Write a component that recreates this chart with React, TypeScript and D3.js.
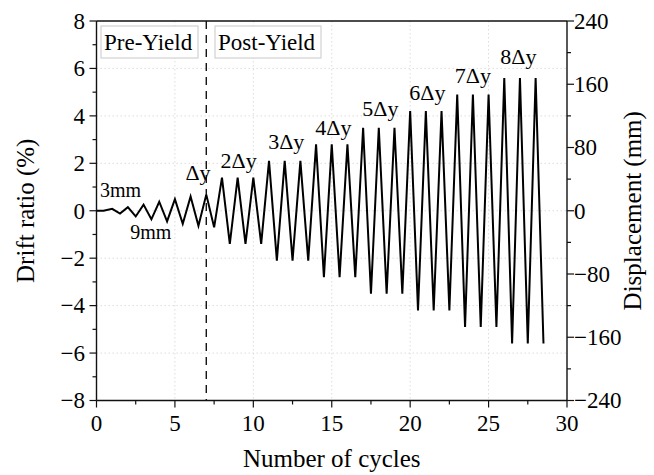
import React from 'react';
import * as d3 from 'd3';

// loading protocol: cycle number vs drift ratio (%)
const cycles = [
  0, 0.45, 1, 1.5, 2, 2.5, 3, 3.5, 4, 4.5, 5, 5.5, 6, 6.5, 7, 7.5,
  8, 8.5, 9, 9.5, 10, 10.5,
  11, 11.5, 12, 12.5, 13, 13.5,
  14, 14.5, 15, 15.5, 16, 16.5,
  17, 17.5, 18, 18.5, 19, 19.5,
  20, 20.5, 21, 21.5, 22, 22.5,
  23, 23.5, 24, 24.5, 25, 25.5,
  26, 26.5, 27, 27.5, 28, 28.5,
];
const drift = [
  0, 0, 0.08, -0.12, 0.15, -0.24, 0.26, -0.36, 0.38, -0.45, 0.49, -0.55, 0.6, -0.63, 0.68, -0.7,
  1.4, -1.4, 1.4, -1.4, 1.4, -1.4,
  2.1, -2.1, 2.1, -2.1, 2.1, -2.1,
  2.8, -2.8, 2.8, -2.8, 2.8, -2.8,
  3.5, -3.5, 3.5, -3.5, 3.5, -3.5,
  4.2, -4.2, 4.2, -4.2, 4.2, -4.2,
  4.9, -4.9, 4.9, -4.9, 4.9, -4.9,
  5.6, -5.6, 5.6, -5.6, 5.6, -5.6,
];

const stageLabels = ['3mm', '9mm', 'Δy', '2Δy', '3Δy', '4Δy', '5Δy', '6Δy', '7Δy', '8Δy'];
const stageLabelCycle = [1.53, 3.46, 6.47, 9.06, 12.1, 15.1, 18.1, 21.1, 24.0, 26.9];
const stageLabelDrift = [0.59, -1.19, 1.28, 1.8, 2.6, 3.2, 4.0, 4.67, 5.4, 6.19];

const yieldCycle = 7;
const phaseLabels = ['Pre-Yield', 'Post-Yield'];

const xTicks = [0, 5, 10, 15, 20, 25, 30];
const yTicks = [-8, -6, -4, -2, 0, 2, 4, 6, 8];
const dispTicks = [-240, -160, -80, 0, 80, 160, 240];

const serif = { fontFamily: "'Liberation Serif', 'DejaVu Serif', serif" };

const App = () => {
  const width = 654, height = 475;
  const left = 96.5, right = 567, top = 21, bottom = 400.5;

  const x = d3.scaleLinear().domain([0, 30]).range([left, right]);
  const y = d3.scaleLinear().domain([-8, 8]).range([bottom, top]);
  const yDisp = d3.scaleLinear().domain([-240, 240]).range([bottom, top]);
  const fmt = d3.format('d');

  const line = d3.line<number>()
    .x((d, i) => x(cycles[i]))
    .y(d => y(d));

  const xMinor = d3.range(2.5, 30, 5);
  const yMinor = d3.range(-7, 8, 2);
  const dispMinor = d3.range(-200, 240, 80);

  return (
    <svg width={width} height={height} style={{ position: 'absolute', left: 0, top: 0, background: '#fff', ...serif }}>
      {/* grid */}
      <g stroke="#dcdcdc" strokeWidth={1} strokeDasharray="1.5 2.5">
        {xTicks.slice(1, -1).map(t => <line key={'gx' + t} x1={x(t)} x2={x(t)} y1={top} y2={bottom} />)}
        {yTicks.slice(1, -1).map(t => <line key={'gy' + t} x1={left} x2={right} y1={y(t)} y2={y(t)} />)}
      </g>

      {/* phase boxes */}
      <rect x={101} y={26} width={97} height={32} fill="#fff" stroke="#c8c8c8" strokeWidth={1} />
      <rect x={215} y={26} width={106} height={32} fill="#fff" stroke="#c8c8c8" strokeWidth={1} />
      <text x={104} y={50} fontSize={23} style={serif}>{phaseLabels[0]}</text>
      <text x={218} y={50} fontSize={23} style={serif}>{phaseLabels[1]}</text>

      {/* yield line */}
      <line x1={x(yieldCycle)} x2={x(yieldCycle)} y1={top} y2={bottom}
        stroke="#111" strokeWidth={1.4} strokeDasharray="8 6" />

      {/* protocol */}
      <path d={line(drift) || ''} fill="none" stroke="#000" strokeWidth={2} strokeLinejoin="miter" />

      {stageLabels.map((s, i) => (
        <text key={s} x={x(stageLabelCycle[i])} y={y(stageLabelDrift[i])} textAnchor="middle"
          fontSize={i < 2 ? 20 : 22} style={serif}>{s}</text>
      ))}

      {/* frame */}
      <g stroke="#111" strokeWidth={1.4} fill="none">
        <line x1={left} x2={right} y1={top} y2={top} />
        <line x1={left} x2={right} y1={bottom} y2={bottom} />
        <line x1={left} x2={left} y1={top} y2={bottom} />
        <line x1={right} x2={right} y1={top} y2={bottom} />
      </g>

      {/* bottom axis */}
      <g stroke="#111" strokeWidth={1.2}>
        {xTicks.map(t => <line key={'xt' + t} x1={x(t)} x2={x(t)} y1={bottom} y2={bottom + 7} />)}
        {xMinor.map(t => <line key={'xm' + t} x1={x(t)} x2={x(t)} y1={bottom} y2={bottom + 4} />)}
      </g>
      {xTicks.map(t => (
        <text key={'xl' + t} x={x(t)} y={431} textAnchor="middle" fontSize={23} style={serif}>{fmt(t)}</text>
      ))}

      {/* left axis */}
      <g stroke="#111" strokeWidth={1.2}>
        {yTicks.map(t => <line key={'yt' + t} x1={left - 7} x2={left} y1={y(t)} y2={y(t)} />)}
        {yMinor.map(t => <line key={'ym' + t} x1={left - 4} x2={left} y1={y(t)} y2={y(t)} />)}
      </g>
      {yTicks.map(t => (
        <text key={'yl' + t} x={85} y={y(t)} dy="0.34em" textAnchor="end" fontSize={23} style={serif}>{fmt(t)}</text>
      ))}

      {/* right axis */}
      <g stroke="#111" strokeWidth={1.2}>
        {dispTicks.map(t => <line key={'dt' + t} x1={right} x2={right + 7} y1={yDisp(t)} y2={yDisp(t)} />)}
        {dispMinor.map(t => <line key={'dm' + t} x1={right} x2={right + 4} y1={yDisp(t)} y2={yDisp(t)} />)}
      </g>
      {dispTicks.map(t => (
        <text key={'dl' + t} x={574} y={yDisp(t)} dy="0.34em" textAnchor="start" fontSize={23} style={serif}>{fmt(t)}</text>
      ))}

      {/* titles */}
      <text x={(left + right) / 2} y={467} textAnchor="middle" fontSize={25} style={serif}>Number of cycles</text>
      <text transform={`translate(34, ${(top + bottom) / 2}) rotate(-90)`} textAnchor="middle" fontSize={25} style={serif}>Drift ratio (%)</text>
      <text transform={`translate(641, ${(top + bottom) / 2}) rotate(-90)`} textAnchor="middle" fontSize={25} style={serif}>Displacement (mm)</text>
    </svg>
  );
};

export default App;
